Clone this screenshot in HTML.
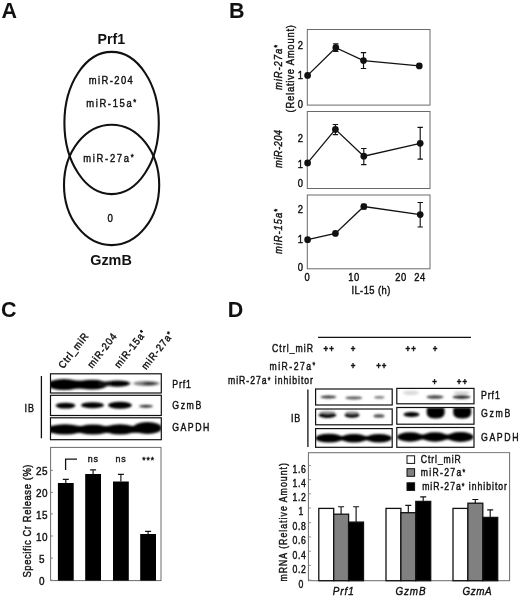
<!DOCTYPE html>
<html lang="en"><head><meta charset="utf-8"><title>Figure</title>
<style>
html,body{margin:0;padding:0;background:#fff;}
body{width:520px;height:599px;overflow:hidden;}
svg{display:block;font-family:"Liberation Sans",Arial,Helvetica,sans-serif;fill:#111;}
.bx{fill:none;stroke:#6a6a6a;stroke-width:1;}
.bb{fill:#fff;stroke:#111;stroke-width:1.3;}
.ln{fill:none;stroke:#111;stroke-width:1.3;}
.eb{fill:none;stroke:#111;stroke-width:1.15;}
</style></head><body>
<svg width="520" height="599" viewBox="0 0 520 599">
<defs>
<filter id="b1" x="-20%" y="-60%" width="140%" height="220%"><feGaussianBlur stdDeviation="1.1 0.9"/></filter>
<filter id="b2" x="-20%" y="-60%" width="140%" height="220%"><feGaussianBlur stdDeviation="1.6 1.2"/></filter>
<filter id="b3" x="-30%" y="-100%" width="160%" height="300%"><feGaussianBlur stdDeviation="2.2 1.6"/></filter>
</defs>
<rect x="0" y="0" width="520" height="599" fill="#fff"/>

<text font-size="21.5" font-weight="bold" transform="translate(1.4 18)">A</text>
<text font-size="21.5" font-weight="bold" transform="translate(228.9 18)">B</text>
<text font-size="21.5" font-weight="bold" transform="translate(1.1 316.8)">C</text>
<text font-size="21.5" font-weight="bold" transform="translate(227.8 316.7)">D</text>
<g id="panelA">
<ellipse cx="111.6" cy="123.0" rx="47.2" ry="71.1" fill="none" stroke="#111" stroke-width="2.1"/>
<ellipse cx="111.6" cy="184.9" rx="47.6" ry="60.2" fill="none" stroke="#111" stroke-width="2.1"/>
<text font-size="14.2" font-weight="bold" transform="translate(97.6 43.6)">Prf1</text>
<text font-size="14.4" font-weight="bold" transform="translate(90.2 264.6)">GzmB</text>
<text font-size="10.45" textLength="48.89" lengthAdjust="spacing" transform="translate(88.8 84) scale(0.9 1)" stroke="#111" stroke-width="0.42">miR-204</text>
<text font-size="10.45" textLength="55.56" lengthAdjust="spacing" transform="translate(86.2 106.6) scale(0.9 1)" stroke="#111" stroke-width="0.42">miR-15a<tspan font-size="8.36" dy="-1.57">*</tspan></text>
<text font-size="10.45" textLength="56.11" lengthAdjust="spacing" transform="translate(83.2 162) scale(0.9 1)" stroke="#111" stroke-width="0.42">miR-27a<tspan font-size="8.36" dy="-1.57">*</tspan></text>
<text font-size="10.78" text-anchor="middle" transform="translate(110.2 221.6) scale(0.9 1)" stroke="#111" stroke-width="0.42">0</text>
</g>
<g id="panelB">
<rect class="bx" x="307.3" y="29.5" width="122.7" height="75.6"/>
<rect class="bx" x="307.3" y="111.5" width="122.7" height="77.0"/>
<rect class="bx" x="307.3" y="195" width="122.7" height="73.8"/>
<polyline class="ln" points="307.6,75.4 335.8,47.7 363.5,60.6 419.3,65.9"/>
<circle cx="307.6" cy="75.4" r="3.35"/>
<path class="eb" d="M335.8 43.8V51.5M333.1 43.8H338.5M333.1 51.5H338.5"/>
<circle cx="335.8" cy="47.7" r="3.35"/>
<path class="eb" d="M363.5 52.6V68.5M360.8 52.6H366.2M360.8 68.5H366.2"/>
<circle cx="363.5" cy="60.6" r="3.35"/>
<circle cx="419.3" cy="65.9" r="3.35"/>
<polyline class="ln" points="307.6,162.9 335.4,129.4 363.8,156.2 420.2,143.3"/>
<circle cx="307.6" cy="162.9" r="3.35"/>
<path class="eb" d="M335.4 124.5V134.6M332.7 124.5H338.09999999999997M332.7 134.6H338.09999999999997"/>
<circle cx="335.4" cy="129.4" r="3.35"/>
<path class="eb" d="M363.8 148.5V164.6M361.1 148.5H366.5M361.1 164.6H366.5"/>
<circle cx="363.8" cy="156.2" r="3.35"/>
<path class="eb" d="M420.2 127.4V159.1M417.5 127.4H422.9M417.5 159.1H422.9"/>
<circle cx="420.2" cy="143.3" r="3.35"/>
<polyline class="ln" points="307.6,239.7 335.4,233.4 363.8,206.5 420.2,214.6"/>
<circle cx="307.6" cy="239.7" r="3.35"/>
<circle cx="335.4" cy="233.4" r="3.35"/>
<path class="eb" d="M363.8 204.3V208.8M361.1 204.3H366.5M361.1 208.8H366.5"/>
<circle cx="363.8" cy="206.5" r="3.35"/>
<path class="eb" d="M420.2 202.5V227M417.5 202.5H422.9M417.5 227H422.9"/>
<circle cx="420.2" cy="214.6" r="3.35"/>
<text font-size="10.45" text-anchor="middle" transform="translate(300.3 48.9) scale(0.9 1)" stroke="#111" stroke-width="0.42">2</text>
<text font-size="10.45" text-anchor="middle" transform="translate(300.3 78.6) scale(0.9 1)" stroke="#111" stroke-width="0.42">1</text>
<text font-size="10.45" text-anchor="middle" transform="translate(300.3 108.3) scale(0.9 1)" stroke="#111" stroke-width="0.42">0</text>
<text font-size="10.45" text-anchor="middle" transform="translate(300.3 142.2) scale(0.9 1)" stroke="#111" stroke-width="0.42">2</text>
<text font-size="10.45" text-anchor="middle" transform="translate(300.3 168.2) scale(0.9 1)" stroke="#111" stroke-width="0.42">1</text>
<text font-size="10.45" text-anchor="middle" transform="translate(300.3 186.9) scale(0.9 1)" stroke="#111" stroke-width="0.42">0</text>
<text font-size="10.45" text-anchor="middle" transform="translate(300.3 213) scale(0.9 1)" stroke="#111" stroke-width="0.42">2</text>
<text font-size="10.45" text-anchor="middle" transform="translate(300.3 243) scale(0.9 1)" stroke="#111" stroke-width="0.42">1</text>
<text font-size="10.45" text-anchor="middle" transform="translate(300.3 270.7) scale(0.9 1)" stroke="#111" stroke-width="0.42">0</text>
<text font-size="10.45" text-anchor="middle" letter-spacing="0.56" transform="translate(307.3 280.8) scale(0.9 1)" stroke="#111" stroke-width="0.42">0</text>
<text font-size="10.45" text-anchor="middle" letter-spacing="0.56" transform="translate(354 280.8) scale(0.9 1)" stroke="#111" stroke-width="0.42">10</text>
<text font-size="10.45" text-anchor="middle" letter-spacing="0.56" transform="translate(401 280.8) scale(0.9 1)" stroke="#111" stroke-width="0.42">20</text>
<text font-size="10.45" text-anchor="middle" letter-spacing="0.56" transform="translate(420 280.8) scale(0.9 1)" stroke="#111" stroke-width="0.42">24</text>
<text font-size="10.45" textLength="43.33" lengthAdjust="spacing" transform="translate(351.4 294.3) scale(0.9 1)" stroke="#111" stroke-width="0.42">IL-15 (h)</text>
<text font-size="10.45" font-style="italic" textLength="50.00" lengthAdjust="spacing" transform="translate(281.5 90) rotate(-90) scale(0.9 1)" stroke="#111" stroke-width="0.42">miR-27a<tspan font-size="8.36" dy="-1.57">*</tspan></text>
<text font-size="10.45" textLength="97.22" lengthAdjust="spacing" transform="translate(293.8 112.5) rotate(-90) scale(0.9 1)" stroke="#111" stroke-width="0.42">(Relative Amount)</text>
<text font-size="10.45" font-style="italic" textLength="42.22" lengthAdjust="spacing" transform="translate(281.5 168) rotate(-90) scale(0.9 1)" stroke="#111" stroke-width="0.42">miR-204</text>
<text font-size="10.45" font-style="italic" textLength="50.00" lengthAdjust="spacing" transform="translate(281.5 254) rotate(-90) scale(0.9 1)" stroke="#111" stroke-width="0.42">miR-15a<tspan font-size="8.36" dy="-1.57">*</tspan></text>
</g>
<g id="panelC">
<text font-size="10.23" textLength="46.11" lengthAdjust="spacing" transform="translate(63.3 369.2) rotate(-52) scale(0.9 1)" stroke="#111" stroke-width="0.42">Ctrl_miR</text>
<text font-size="10.23" textLength="45.00" lengthAdjust="spacing" transform="translate(92.3 368.7) rotate(-52) scale(0.9 1)" stroke="#111" stroke-width="0.42">miR-204</text>
<text font-size="10.23" textLength="49.44" lengthAdjust="spacing" transform="translate(119.3 368.7) rotate(-52) scale(0.9 1)" stroke="#111" stroke-width="0.42">miR-15a<tspan font-size="8.18" dy="-1.53">*</tspan></text>
<text font-size="10.23" textLength="49.44" lengthAdjust="spacing" transform="translate(146.3 370.2) rotate(-52) scale(0.9 1)" stroke="#111" stroke-width="0.42">miR-27a<tspan font-size="8.18" dy="-1.53">*</tspan></text>
<path class="ln" d="M41.4 376V438.3" stroke-width="1.5"/>
<text font-size="10.2" letter-spacing="0.91" transform="translate(24.6 411.9) scale(0.88 1)" stroke="#111" stroke-width="0.42">IB</text>
<clipPath id="cc1"><rect x="50.5" y="373.8" width="110.8" height="19.2"/></clipPath>
<clipPath id="cc2"><rect x="50.5" y="395.3" width="110.8" height="20.2"/></clipPath>
<clipPath id="cc3"><rect x="50.5" y="417.8" width="110.8" height="21.9"/></clipPath>
<g clip-path="url(#cc1)"><g filter="url(#b2)">
<ellipse cx="64" cy="384.6" rx="17" ry="5.5" fill="#000"/>
<ellipse cx="92" cy="384.7" rx="15" ry="4.9" fill="#000"/>
<rect x="58" y="380.6" width="42" height="8" fill="#000"/>
<ellipse cx="117.5" cy="383.6" rx="12.5" ry="3.2" fill="#050505"/>
<rect x="98" y="381.6" width="14" height="4.4" fill="#111"/>
<ellipse cx="146.5" cy="383.5" rx="13" ry="2.4" fill="#808080"/>
<ellipse cx="149.5" cy="383.7" rx="6.5" ry="1.6" fill="#333"/>
</g></g>
<g clip-path="url(#cc2)"><g filter="url(#b1)">
<ellipse cx="65.5" cy="405.6" rx="10" ry="2.9" fill="#000"/>
<ellipse cx="92.5" cy="405.2" rx="11.5" ry="3" fill="#000"/>
<ellipse cx="120" cy="405.3" rx="12" ry="3.5" fill="#000"/>
<ellipse cx="146" cy="406.2" rx="7" ry="1.5" fill="#333"/>
</g></g>
<g clip-path="url(#cc3)"><g filter="url(#b2)">
<ellipse cx="65" cy="429.4" rx="18" ry="5.2" fill="#000"/>
<ellipse cx="93" cy="429.6" rx="16" ry="5" fill="#000"/>
<ellipse cx="120" cy="429.4" rx="16" ry="5.2" fill="#000"/>
<ellipse cx="147.5" cy="428" rx="14.5" ry="6" fill="#000"/>
<rect x="49" y="426" width="102" height="6.8" fill="#000"/>
</g></g>
<rect x="50.5" y="373.8" width="110.8" height="19.2" fill="none" stroke="#111" stroke-width="1.2"/>
<rect x="50.5" y="395.3" width="110.8" height="20.2" fill="none" stroke="#111" stroke-width="1.2"/>
<rect x="50.5" y="417.8" width="110.8" height="21.9" fill="none" stroke="#111" stroke-width="1.2"/>
<text font-size="10.3" textLength="21.88" lengthAdjust="spacing" transform="translate(172.3 387.5) scale(0.85 1)" stroke="#111" stroke-width="0.42">Prf1</text>
<text font-size="10.3" textLength="34.12" lengthAdjust="spacing" transform="translate(172.3 408.6) scale(0.85 1)" stroke="#111" stroke-width="0.42">GzmB</text>
<text font-size="10.3" textLength="43.53" lengthAdjust="spacing" transform="translate(172.3 430.8) scale(0.85 1)" stroke="#111" stroke-width="0.42">GAPDH</text>
<rect class="bx" x="50.6" y="447.4" width="110.4" height="133.2"/>
<path class="eb" d="M65.8 483.0V479.3M62.8 479.3H68.8" stroke-width="1.2"/>
<rect x="57.9" y="483.0" width="15.8" height="97.6" fill="#000"/>
<path class="eb" d="M93.10000000000001 474.0V469.8M90.10000000000001 469.8H96.10000000000001" stroke-width="1.2"/>
<rect x="85.2" y="474.0" width="15.8" height="106.6" fill="#000"/>
<path class="eb" d="M120.9 481.5V474.3M117.9 474.3H123.9" stroke-width="1.2"/>
<rect x="113" y="481.5" width="15.8" height="99.1" fill="#000"/>
<path class="eb" d="M148.1 534V531.4M145.1 531.4H151.1" stroke-width="1.2"/>
<rect x="140.2" y="534" width="15.8" height="46.6" fill="#000"/>
<path class="ln" d="M65.6 470V459.1H77" stroke-width="1.4"/>
<text font-size="9.9" text-anchor="middle" letter-spacing="1.00" transform="translate(93.3 462) scale(0.9 1)" stroke="#111" stroke-width="0.42">ns</text>
<text font-size="9.9" text-anchor="middle" letter-spacing="1.00" transform="translate(121 462) scale(0.9 1)" stroke="#111" stroke-width="0.42">ns</text>
<text font-size="9.46" text-anchor="middle" letter-spacing="1.00" transform="translate(148.6 462.7) scale(0.9 1)" stroke="#111" stroke-width="0.42">***</text>
<text font-size="11.6" text-anchor="middle" letter-spacing="0.58" transform="translate(42.1 585.2) scale(0.86 1)" stroke="#111" stroke-width="0.42">0</text>
<path d="M50.7 580.2h2.3" stroke="#888" stroke-width="1" fill="none"/>
<text font-size="11.6" text-anchor="middle" letter-spacing="0.58" transform="translate(42.1 563.1) scale(0.86 1)" stroke="#111" stroke-width="0.42">5</text>
<path d="M50.7 558.1h2.3" stroke="#888" stroke-width="1" fill="none"/>
<text font-size="11.6" text-anchor="middle" letter-spacing="0.58" transform="translate(42.1 541) scale(0.86 1)" stroke="#111" stroke-width="0.42">10</text>
<path d="M50.7 536.0h2.3" stroke="#888" stroke-width="1" fill="none"/>
<text font-size="11.6" text-anchor="middle" letter-spacing="0.58" transform="translate(42.1 518.9) scale(0.86 1)" stroke="#111" stroke-width="0.42">15</text>
<path d="M50.7 513.9h2.3" stroke="#888" stroke-width="1" fill="none"/>
<text font-size="11.6" text-anchor="middle" letter-spacing="0.58" transform="translate(42.1 497.4) scale(0.86 1)" stroke="#111" stroke-width="0.42">20</text>
<path d="M50.7 492.4h2.3" stroke="#888" stroke-width="1" fill="none"/>
<text font-size="11.6" text-anchor="middle" letter-spacing="0.58" transform="translate(42.1 475.3) scale(0.86 1)" stroke="#111" stroke-width="0.42">25</text>
<path d="M50.7 470.3h2.3" stroke="#888" stroke-width="1" fill="none"/>
<text font-size="10.45" textLength="125.56" lengthAdjust="spacing" transform="translate(30.5 577.5) rotate(-90) scale(0.9 1)" stroke="#111" stroke-width="0.42">Specific Cr Release (%)</text>
</g>
<g id="panelD">
<path class="ln" d="M318 337.4H471" stroke-width="1.2"/>
<text font-size="10.17" textLength="48.24" lengthAdjust="spacing" transform="translate(272 351.5) scale(0.85 1)" stroke="#111" stroke-width="0.42">Ctrl_miR</text>
<text font-size="10.17" textLength="53.53" lengthAdjust="spacing" transform="translate(269.6 369.7) scale(0.85 1)" stroke="#111" stroke-width="0.42">miR-27a<tspan font-size="8.14" dy="-1.53">*</tspan></text>
<text font-size="10.17" textLength="100.00" lengthAdjust="spacing" transform="translate(228 384.1) scale(0.85 1)" stroke="#111" stroke-width="0.42">miR-27a<tspan font-size="8.14" dy="-1.53">*</tspan><tspan dy="1.53"> inhibitor</tspan></text>
<text font-size="8.8" text-anchor="middle" font-weight="bold" letter-spacing="1.11" transform="translate(329.2 351.6) scale(0.9 1)" stroke="#111" stroke-width="0.42">++</text>
<text font-size="8.8" text-anchor="middle" font-weight="bold" letter-spacing="1.11" transform="translate(353.5 351.6) scale(0.9 1)" stroke="#111" stroke-width="0.42">+</text>
<text font-size="8.8" text-anchor="middle" font-weight="bold" letter-spacing="1.11" transform="translate(411.2 351.6) scale(0.9 1)" stroke="#111" stroke-width="0.42">++</text>
<text font-size="8.8" text-anchor="middle" font-weight="bold" letter-spacing="1.11" transform="translate(435.6 351.6) scale(0.9 1)" stroke="#111" stroke-width="0.42">+</text>
<text font-size="8.8" text-anchor="middle" font-weight="bold" letter-spacing="1.11" transform="translate(353.5 368.8) scale(0.9 1)" stroke="#111" stroke-width="0.42">+</text>
<text font-size="8.8" text-anchor="middle" font-weight="bold" letter-spacing="1.11" transform="translate(381.8 368.8) scale(0.9 1)" stroke="#111" stroke-width="0.42">++</text>
<text font-size="8.8" text-anchor="middle" font-weight="bold" letter-spacing="1.11" transform="translate(435 384.7) scale(0.9 1)" stroke="#111" stroke-width="0.42">+</text>
<text font-size="8.8" text-anchor="middle" font-weight="bold" letter-spacing="1.11" transform="translate(462.4 384.7) scale(0.9 1)" stroke="#111" stroke-width="0.42">++</text>
<path class="ln" d="M307.9 389.4V447" stroke-width="1.6"/>
<text font-size="10.2" letter-spacing="0.91" transform="translate(291 421.5) scale(0.88 1)" stroke="#111" stroke-width="0.42">IB</text>
<clipPath id="dl0"><rect x="315.6" y="389" width="76.6" height="16.0"/></clipPath>
<clipPath id="dr0"><rect x="396.8" y="388.4" width="77.2" height="15.4"/></clipPath>
<clipPath id="dl1"><rect x="315.6" y="409" width="76.6" height="15.8"/></clipPath>
<clipPath id="dr1"><rect x="396.8" y="407.5" width="77.2" height="16.7"/></clipPath>
<clipPath id="dl2"><rect x="315.6" y="428.6" width="76.6" height="18.7"/></clipPath>
<clipPath id="dr2"><rect x="396.8" y="427.5" width="77.2" height="19.8"/></clipPath>
<g clip-path="url(#dl0)"><g filter="url(#b1)">
<ellipse cx="328.4" cy="397" rx="8" ry="1.5" fill="#333"/>
<ellipse cx="353.8" cy="397.9" rx="8.5" ry="1.5" fill="#555"/>
<ellipse cx="379.3" cy="397.4" rx="5" ry="1.1" fill="#666"/>
</g></g>
<g clip-path="url(#dl1)"><g filter="url(#b1)">
<ellipse cx="327.4" cy="415" rx="9" ry="2.9" fill="#000"/><ellipse cx="327.4" cy="412.2" rx="8" ry="1.5" fill="#aaa"/>
<ellipse cx="352" cy="415" rx="7.5" ry="2.8" fill="#000"/><ellipse cx="352" cy="412.4" rx="6.5" ry="1.4" fill="#aaa"/>
<ellipse cx="379" cy="415.9" rx="5.5" ry="1.6" fill="#444"/>
</g></g>
<g clip-path="url(#dl2)"><g filter="url(#b1)">
<ellipse cx="329" cy="438.2" rx="13.5" ry="4.4" fill="#000"/>
<ellipse cx="354" cy="438.2" rx="13" ry="4.2" fill="#000"/>
<ellipse cx="379" cy="438.2" rx="13" ry="4.2" fill="#000"/>
<rect x="320" y="436" width="66" height="4.4" fill="#000"/>
</g></g>
<g clip-path="url(#dr0)"><g filter="url(#b1)">
<ellipse cx="411" cy="392.8" rx="8" ry="2.4" fill="#dcdcdc"/>
<ellipse cx="435" cy="397" rx="8.5" ry="1.7" fill="#444"/>
<ellipse cx="461.5" cy="397" rx="9" ry="1.9" fill="#333"/>
<ellipse cx="461.5" cy="393" rx="8" ry="1.6" fill="#ccc"/>
</g></g>
<g clip-path="url(#dr1)"><g filter="url(#b1)">
<ellipse cx="411.5" cy="414.5" rx="8" ry="2.6" fill="#000"/>
<path d="M427.3 407.5H444Q445.6 413 443.6 416Q441.2 418.5 435.6 418.5Q430 418.5 427.7 416Q425.7 413 427.3 407.5Z" fill="#000"/>
<path d="M453.8 407.5H470.6Q472.2 413 470.2 416Q467.8 418.5 462.2 418.5Q456.6 418.5 454.2 416Q452.2 413 453.8 407.5Z" fill="#000"/>
</g></g>
<g clip-path="url(#dr2)"><g filter="url(#b1)">
<ellipse cx="410" cy="437" rx="13" ry="4.7" fill="#000"/>
<ellipse cx="435" cy="437" rx="13" ry="4.7" fill="#000"/>
<ellipse cx="460.5" cy="437" rx="13" ry="4.9" fill="#000"/>
<rect x="401" y="434.5" width="66" height="5" fill="#000"/>
</g></g>
<rect x="315.6" y="389" width="76.6" height="16.0" fill="none" stroke="#111" stroke-width="1.2"/>
<rect x="315.6" y="409" width="76.6" height="15.8" fill="none" stroke="#111" stroke-width="1.2"/>
<rect x="315.6" y="428.6" width="76.6" height="18.7" fill="none" stroke="#111" stroke-width="1.2"/>
<rect x="396.8" y="388.4" width="77.2" height="15.4" fill="none" stroke="#111" stroke-width="1.2"/>
<rect x="396.8" y="407.5" width="77.2" height="16.7" fill="none" stroke="#111" stroke-width="1.2"/>
<rect x="396.8" y="427.5" width="77.2" height="19.8" fill="none" stroke="#111" stroke-width="1.2"/>
<text font-size="10.3" textLength="22.12" lengthAdjust="spacing" transform="translate(481 398.5) scale(0.85 1)" stroke="#111" stroke-width="0.42">Prf1</text>
<text font-size="10.3" textLength="34.47" lengthAdjust="spacing" transform="translate(481 416.8) scale(0.85 1)" stroke="#111" stroke-width="0.42">GzmB</text>
<text font-size="10.3" textLength="44.12" lengthAdjust="spacing" transform="translate(481 440.5) scale(0.85 1)" stroke="#111" stroke-width="0.42">GAPDH</text>
<rect class="bx" x="308.4" y="452.7" width="201.2" height="128"/>
<path class="eb" d="M341.1 514.2V506.7M338.1 506.7H344.1" stroke-width="1.2"/>
<path class="eb" d="M356.1 522.1V506.7M353.1 506.7H359.1" stroke-width="1.2"/>
<rect x="318.8" y="508.4" width="14.9" height="72.3" fill="#fff" stroke="#111" stroke-width="1.3"/>
<rect x="333.7" y="514.2" width="14.9" height="66.5" fill="#808080" stroke="#111" stroke-width="1.3"/>
<rect x="348.6" y="522.1" width="14.9" height="58.6" fill="#000" stroke="#111" stroke-width="1.3"/>
<path class="eb" d="M408.3 512.7V505.4M405.3 505.4H411.3" stroke-width="1.2"/>
<path class="eb" d="M423.2 501.4V496.9M420.2 496.9H426.2" stroke-width="1.2"/>
<rect x="386.0" y="508.4" width="14.9" height="72.3" fill="#fff" stroke="#111" stroke-width="1.3"/>
<rect x="400.9" y="512.7" width="14.9" height="68.0" fill="#808080" stroke="#111" stroke-width="1.3"/>
<rect x="415.8" y="501.4" width="14.9" height="79.3" fill="#000" stroke="#111" stroke-width="1.3"/>
<path class="eb" d="M475.3 503.2V499.5M472.3 499.5H478.3" stroke-width="1.2"/>
<path class="eb" d="M490.2 517.4V509.8M487.2 509.8H493.2" stroke-width="1.2"/>
<rect x="453.0" y="508.4" width="14.9" height="72.3" fill="#fff" stroke="#111" stroke-width="1.3"/>
<rect x="467.9" y="503.2" width="14.9" height="77.5" fill="#808080" stroke="#111" stroke-width="1.3"/>
<rect x="482.8" y="517.4" width="14.9" height="63.3" fill="#000" stroke="#111" stroke-width="1.3"/>
<text font-size="10.2" text-anchor="end" letter-spacing="0.82" transform="translate(306.6 472.8) scale(0.85 1)" stroke="#111" stroke-width="0.42">1.6</text>
<path d="M308.9 465.5h2.2" stroke="#999" stroke-width="1" fill="none"/>
<text font-size="10.2" text-anchor="end" letter-spacing="0.82" transform="translate(306.6 487) scale(0.85 1)" stroke="#111" stroke-width="0.42">1.4</text>
<path d="M308.9 479.7h2.2" stroke="#999" stroke-width="1" fill="none"/>
<text font-size="10.2" text-anchor="end" letter-spacing="0.82" transform="translate(306.6 501.2) scale(0.85 1)" stroke="#111" stroke-width="0.42">1.2</text>
<path d="M308.9 493.9h2.2" stroke="#999" stroke-width="1" fill="none"/>
<text font-size="10.2" text-anchor="middle" transform="translate(300.9 515.3) scale(0.85 1)" stroke="#111" stroke-width="0.42">1</text>
<path d="M308.9 508.0h2.2" stroke="#999" stroke-width="1" fill="none"/>
<text font-size="10.2" text-anchor="end" letter-spacing="0.82" transform="translate(306.6 530) scale(0.85 1)" stroke="#111" stroke-width="0.42">0.8</text>
<path d="M308.9 522.7h2.2" stroke="#999" stroke-width="1" fill="none"/>
<text font-size="10.2" text-anchor="end" letter-spacing="0.82" transform="translate(306.6 544.2) scale(0.85 1)" stroke="#111" stroke-width="0.42">0.6</text>
<path d="M308.9 536.9h2.2" stroke="#999" stroke-width="1" fill="none"/>
<text font-size="10.2" text-anchor="end" letter-spacing="0.82" transform="translate(306.6 558.5) scale(0.85 1)" stroke="#111" stroke-width="0.42">0.4</text>
<path d="M308.9 551.2h2.2" stroke="#999" stroke-width="1" fill="none"/>
<text font-size="10.2" text-anchor="end" letter-spacing="0.82" transform="translate(306.6 572.7) scale(0.85 1)" stroke="#111" stroke-width="0.42">0.2</text>
<path d="M308.9 565.4h2.2" stroke="#999" stroke-width="1" fill="none"/>
<text font-size="10.2" text-anchor="middle" transform="translate(300.9 588.0) scale(0.85 1)" stroke="#111" stroke-width="0.42">0</text>
<path d="M308.9 580.0h2.2" stroke="#999" stroke-width="1" fill="none"/>
<text font-size="10.23" textLength="139.41" lengthAdjust="spacing" transform="translate(287.3 581.6) rotate(-90) scale(0.85 1)" stroke="#111" stroke-width="0.42">mRNA (Relative Amount)</text>
<text font-size="11.0" font-style="italic" textLength="23.33" lengthAdjust="spacing" transform="translate(332.8 594.5) scale(0.9 1)" stroke="#111" stroke-width="0.42">Prf1</text>
<text font-size="11.0" font-style="italic" textLength="33.56" lengthAdjust="spacing" transform="translate(395.4 594.5) scale(0.9 1)" stroke="#111" stroke-width="0.42">GzmB</text>
<text font-size="11.0" font-style="italic" textLength="32.44" lengthAdjust="spacing" transform="translate(462.4 594.5) scale(0.9 1)" stroke="#111" stroke-width="0.42">GzmA</text>
<rect x="400" y="453.5" width="109" height="40" fill="#fff"/>
<rect x="407" y="455.8" width="7.6" height="7.6" fill="#fff" stroke="#111" stroke-width="1"/>
<rect x="407" y="468.7" width="7.6" height="7.6" fill="#808080" stroke="#111" stroke-width="1"/>
<rect x="407" y="482.8" width="7.6" height="7.6" fill="#000" stroke="#111" stroke-width="1"/>
<text font-size="10.17" textLength="47.06" lengthAdjust="spacing" transform="translate(420.8 463.1) scale(0.85 1)" stroke="#111" stroke-width="0.42">Ctrl_miR</text>
<text font-size="10.17" textLength="52.35" lengthAdjust="spacing" transform="translate(420.8 476.2) scale(0.85 1)" stroke="#111" stroke-width="0.42">miR-27a<tspan font-size="8.14" dy="-1.53">*</tspan></text>
<text font-size="10.17" textLength="99.76" lengthAdjust="spacing" transform="translate(422.2 490.1) scale(0.85 1)" stroke="#111" stroke-width="0.42">miR-27a<tspan font-size="8.14" dy="-1.53">*</tspan><tspan dy="1.53"> inhibitor</tspan></text>
</g>
</svg>
</body></html>
